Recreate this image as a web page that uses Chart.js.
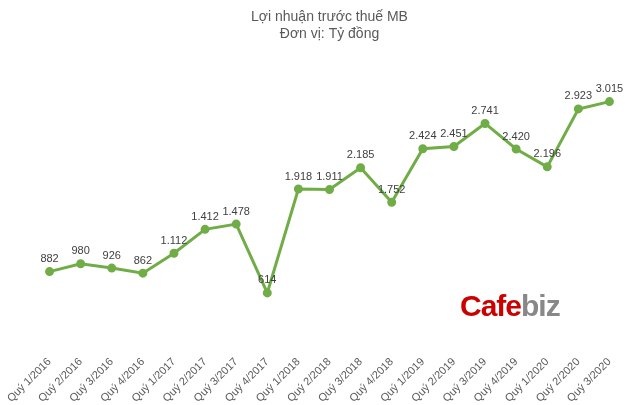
<!DOCTYPE html>
<html><head><meta charset="utf-8">
<script src="https://cdn.jsdelivr.net/npm/chart.js@4/dist/chart.umd.min.js"></script>
<style>html,body{margin:0;padding:0;background:#fff}#w{position:relative;width:640px;height:405px}
#logo{position:absolute;left:460px;top:289px;font:bold 30px 'Liberation Sans',Arial;color:#c00;letter-spacing:-1px}
#logo span{color:#888}</style></head>
<body><div id="w"><canvas id="c" width="640" height="405"></canvas><div id="logo">Cafe<span>biz</span></div></div>
<script>
const categories=["Quý 1/2016","Quý 2/2016","Quý 3/2016","Quý 4/2016","Quý 1/2017","Quý 2/2017","Quý 3/2017","Quý 4/2017","Quý 1/2018","Quý 2/2018","Quý 3/2018","Quý 4/2018","Quý 1/2019","Quý 2/2019","Quý 3/2019","Quý 4/2019","Quý 1/2020","Quý 2/2020","Quý 3/2020"];
const profit=[882,980,926,862,1112,1412,1478,614,1918,1911,2185,1752,2424,2451,2741,2420,2196,2923,3015];
const titleLines=["Lợi nhuận trước thuế MB","Đơn vị: Tỷ đồng"];
const fmt=v=>v.toLocaleString('en-US').replace(/,/g,'.');
const labelPlugin={id:'lbl',afterDatasetsDraw(ch){const ctx=ch.ctx;const m=ch.getDatasetMeta(0);ctx.save();ctx.font="11px 'Liberation Sans',Arial";ctx.fillStyle='#404040';ctx.textAlign='center';ctx.textBaseline='bottom';
m.data.forEach((p,i)=>ctx.fillText(fmt(profit[i]),p.x,p.y-7));ctx.restore();}};
new Chart(document.getElementById('c'),{type:'line',data:{labels:categories,datasets:[{data:profit,borderColor:'#70AD47',backgroundColor:'#70AD47',borderWidth:3,pointRadius:3,pointBackgroundColor:'#70AD47',tension:0}]},
options:{responsive:false,animation:false,layout:{padding:{left:34,right:15,top:5}},
plugins:{legend:{display:false},tooltip:{enabled:false},title:{display:true,text:titleLines,color:'#595959',font:{family:"'Liberation Sans',Arial",size:14,weight:'normal'},padding:{top:4,bottom:10}}},
scales:{y:{display:false,min:-70,max:3630},x:{offset:true,grid:{display:false},border:{display:false},ticks:{color:'#595959',font:{family:"'Liberation Sans',Arial",size:11},maxRotation:45,minRotation:45,padding:0}}}},
plugins:[labelPlugin]});
</script></body></html>
